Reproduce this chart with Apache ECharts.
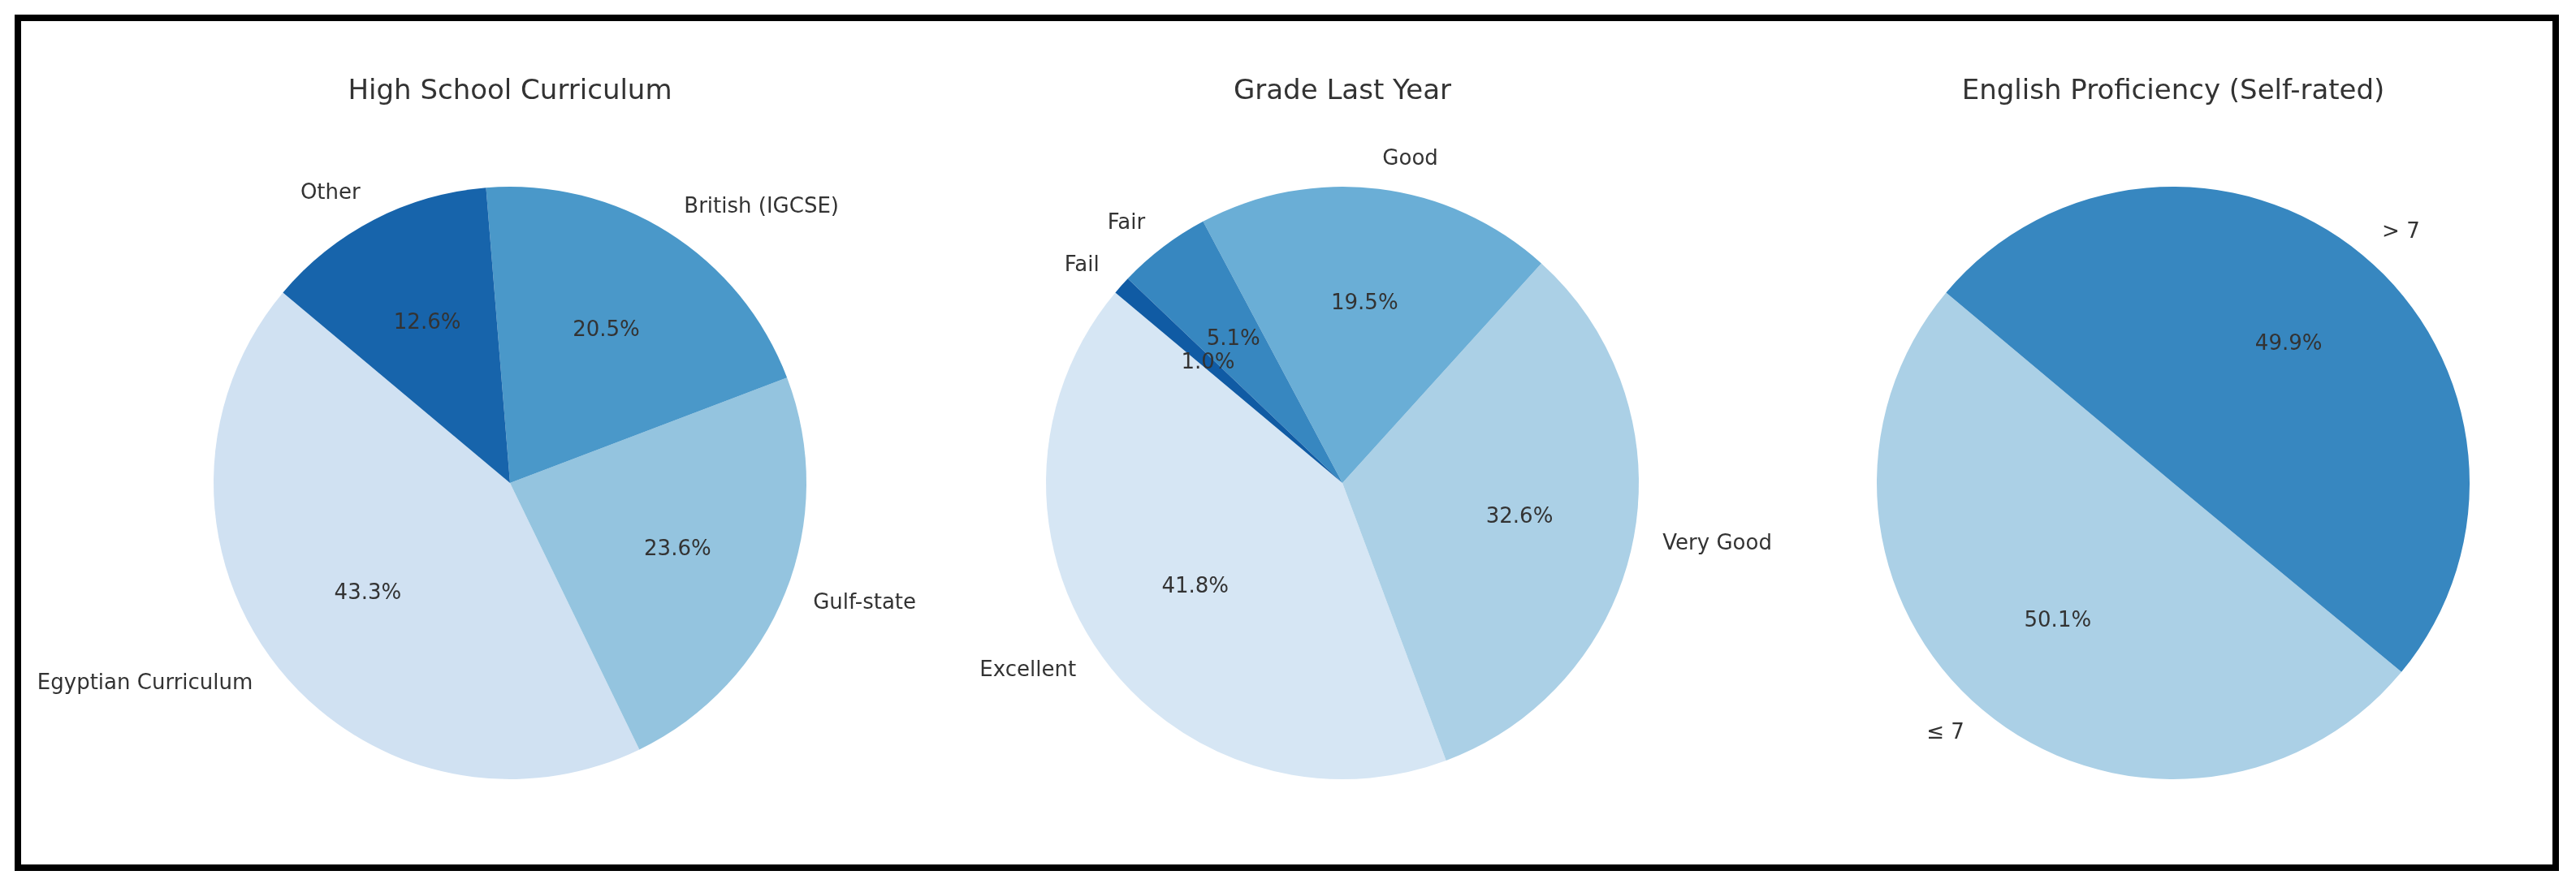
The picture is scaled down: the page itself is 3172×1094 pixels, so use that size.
<!DOCTYPE html>
<html>
<head>
<meta charset="utf-8">
<title>Student background pies</title>
<script src="https://cdn.jsdelivr.net/npm/echarts@6/dist/echarts.min.js"></script>
<style>
  html, body { margin: 0; padding: 0; background: #fff; }
  #chart { width: 3172px; height: 1094px; }
</style>
</head>
<body>
<div id="chart"></div>
<script>
const titles = ['High School Curriculum', 'Grade Last Year', 'English Proficiency (Self-rated)'];

const curriculumLabels = ['Egyptian Curriculum', 'Gulf-state', 'British (IGCSE)', 'Other'];
const curriculumValues = [43.3, 23.6, 20.5, 12.6];

const gradeLabels = ['Excellent', 'Very Good', 'Good', 'Fair', 'Fail'];
const gradeValues = [41.8, 32.6, 19.5, 5.1, 1.0];

const englishLabels = ['≤ 7', '> 7'];
const englishValues = [50.1, 49.9];

// Blues colormap samples
const curriculumColors = ['#d0e1f2', '#94c4df', '#4a98c9', '#1764ab'];
const gradeColors = ['#d6e6f4', '#abd0e6', '#6aaed6', '#3787c0', '#105ba4'];
const englishColors = ['#abd0e6', '#3787c0'];

const R = 365;
const CY = 595;
const centers = [628, 1653, 2676];
const font = 'DejaVu Sans';
const textColor = '#333';

const pies = [
  { labels: curriculumLabels, values: curriculumValues, colors: curriculumColors },
  { labels: gradeLabels, values: gradeValues, colors: gradeColors },
  { labels: englishLabels, values: englishValues, colors: englishColors }
];

const series = [];
pies.forEach((p, i) => {
  const data = p.labels.map((name, j) => ({
    name: name,
    value: p.values[j],
    itemStyle: { color: p.colors[j] }
  }));
  // slices + category labels at 1.1 r
  series.push({
    type: 'pie',
    center: [centers[i], CY],
    radius: [0, R],
    startAngle: 140,
    clockwise: false,
    avoidLabelOverlap: false,
    silent: true,
    animation: false,
    data: data,
    itemStyle: { borderWidth: 0 },
    label: {
      position: 'outside',
      formatter: '{b}',
      fontFamily: font,
      fontSize: 26,
      color: textColor,
      distanceToLabelLine: 0
    },
    labelLine: { show: false, length: R * 0.1, length2: 0 }
  });
  // transparent ring only to place the percentages at 0.6 r
  series.push({
    type: 'pie',
    center: [centers[i], CY],
    radius: [R * 0.2, R],
    startAngle: 140,
    clockwise: false,
    avoidLabelOverlap: false,
    silent: true,
    animation: false,
    data: p.labels.map((name, j) => ({ name: name, value: p.values[j] })),
    itemStyle: { color: 'rgba(0,0,0,0)', borderWidth: 0 },
    label: {
      position: 'inside',
      formatter: (d) => d.percent.toFixed(1) + '%',
      fontFamily: font,
      fontSize: 26,
      color: textColor
    },
    labelLine: { show: false }
  });
});

const chart = echarts.init(document.getElementById('chart'));
chart.setOption({
  backgroundColor: '#fff',
  title: titles.map((t, i) => ({
    text: t,
    left: centers[i],
    top: 96,
    textAlign: 'center',
    padding: 0,
    textStyle: { fontFamily: font, fontSize: 34, fontWeight: 'normal', color: textColor }
  })),
  graphic: [{
    type: 'rect',
    shape: { x: 22, y: 22, width: 3125, height: 1047 },
    style: { fill: 'none', stroke: '#000', lineWidth: 8 },
    silent: true
  }],
  series: series
});
</script>
</body>
</html>
